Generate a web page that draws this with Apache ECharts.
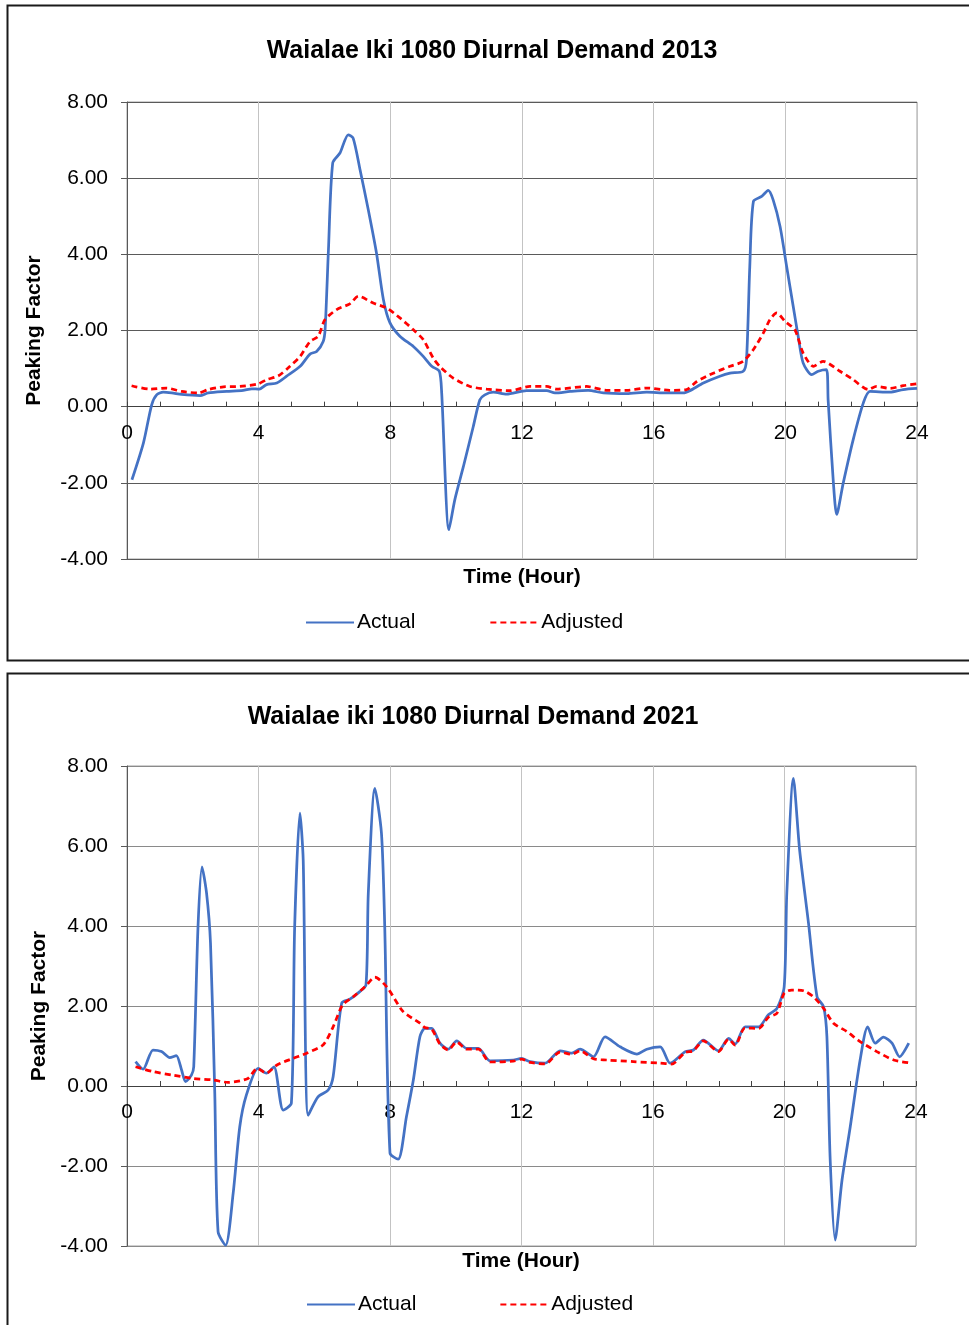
<!DOCTYPE html>
<html>
<head>
<meta charset="utf-8">
<script src="https://cdn.jsdelivr.net/npm/echarts@6/dist/echarts.min.js"></script>
<style>
html,body{margin:0;padding:0;background:#fff;}
#chart{width:969px;height:1325px;}
</style>
</head>
<body>
<div id="chart"></div>
<script>
// ---------- DATA ----------
const titles = ['Waialae Iki 1080 Diurnal Demand 2013', 'Waialae iki 1080 Diurnal Demand 2021'];
const seriesNames = ['Actual', 'Adjusted'];
const xAxisName = 'Time (Hour)';
const yAxisName = 'Peaking Factor';

// 2013 - Actual
const act13Hours = [0.15,0.5,0.75,0.9,1.1,1.36,1.66,2.22,2.47,3.03,3.53,3.79,4.02,4.24,4.55,4.85,5.26,5.56,5.76,5.96,6.02,6.12,6.25,6.47,6.72,6.87,7.08,7.33,7.58,7.79,7.99,8.29,8.70,9.0,9.26,9.49,9.56,9.78,9.96,10.22,10.52,10.72,10.87,11.13,11.53,12.14,12.75,13.0,13.46,14.01,14.47,15.18,15.79,16.39,16.9,17.10,17.51,18.01,18.32,18.72,18.82,18.92,19.03,19.28,19.48,19.63,19.84,20.04,20.24,20.39,20.54,20.8,21.0,21.25,21.3,21.46,21.56,21.76,22.06,22.37,22.57,23.18,23.58,24.0];
const act13Values = [-1.92,-0.95,0.05,0.31,0.38,0.36,0.32,0.29,0.36,0.40,0.43,0.47,0.46,0.58,0.62,0.80,1.06,1.38,1.45,1.71,2.05,4.12,6.40,6.66,7.14,7.05,6.22,5.17,4.03,2.81,2.20,1.85,1.58,1.32,1.06,0.93,0.36,-3.23,-2.44,-1.57,-0.52,0.18,0.31,0.38,0.33,0.42,0.42,0.36,0.40,0.43,0.36,0.34,0.38,0.36,0.36,0.42,0.62,0.80,0.88,0.93,1.23,3.68,5.39,5.52,5.68,5.43,4.73,3.68,2.63,1.85,1.15,0.84,0.93,0.97,0.18,-2.0,-2.83,-2.0,-0.87,0.10,0.40,0.38,0.45,0.48];

// 2013 - Adjusted
const adj13Hours = [0.14,0.7,1.2,1.66,2.17,2.47,2.93,3.43,3.99,4.24,4.6,4.95,5.26,5.56,5.81,6.01,6.37,6.77,7.03,7.48,7.89,8.29,8.70,9.0,9.3,9.5,9.91,10.42,10.93,11.63,12.24,12.75,13.05,13.96,14.57,15.18,15.79,16.49,17.0,17.31,17.81,18.32,18.72,19.03,19.33,19.53,19.74,19.99,20.29,20.54,20.85,21.15,21.66,22.06,22.52,22.77,23.18,23.58,24.0];
const adj13Values = [0.55,0.46,0.49,0.40,0.36,0.45,0.52,0.53,0.60,0.71,0.81,1.06,1.32,1.71,1.85,2.28,2.55,2.70,2.90,2.72,2.59,2.33,2.02,1.76,1.28,1.06,0.75,0.53,0.46,0.42,0.53,0.53,0.46,0.53,0.43,0.43,0.49,0.43,0.45,0.66,0.88,1.06,1.19,1.50,1.93,2.28,2.46,2.24,2.02,1.41,1.06,1.19,0.93,0.71,0.45,0.53,0.48,0.55,0.60];

// 2021 - Actual
const act21Hours = [0.26,0.49,0.79,1.05,1.3,1.5,1.66,1.78,1.96,2.03,2.16,2.28,2.42,2.54,2.67,2.77,3.0,3.23,3.43,3.63,3.99,4.24,4.47,4.75,5.0,5.1,5.26,5.36,5.51,5.81,6.12,6.27,6.53,6.78,7.08,7.27,7.34,7.54,7.74,7.84,8.0,8.25,8.5,8.71,8.91,9.06,9.27,9.52,9.77,10.03,10.33,10.69,11.04,11.75,12.0,12.26,12.72,13.17,13.53,13.78,14.19,14.54,15.0,15.51,15.81,16.22,16.52,16.98,17.23,17.53,17.99,18.3,18.5,18.8,19.21,19.51,19.77,19.99,20.07,20.27,20.46,20.73,20.99,21.19,21.29,21.39,21.54,21.75,22.0,22.3,22.53,22.76,23.01,23.27,23.5,23.78];
const act21Values = [0.61,0.42,0.90,0.86,0.71,0.76,0.40,0.11,0.27,0.48,3.98,5.48,4.82,3.57,-0.18,-3.64,-3.98,-2.68,-1.02,-0.23,0.44,0.32,0.48,-0.6,-0.43,3.98,6.82,5.65,-0.73,-0.27,-0.1,0.23,2.07,2.17,2.36,2.53,4.82,7.44,6.32,3.98,-1.68,-1.83,-0.77,0.15,1.23,1.44,1.44,1.07,0.92,1.13,0.94,0.94,0.63,0.65,0.69,0.61,0.57,0.88,0.82,0.92,0.73,1.23,0.98,0.80,0.92,0.98,0.57,0.86,0.90,1.15,0.88,1.19,1.05,1.48,1.48,1.78,1.94,2.48,4.82,7.69,5.9,4.07,2.23,1.98,1.23,-1.85,-3.85,-2.35,-1.02,0.65,1.48,1.07,1.22,1.07,0.73,1.07];

// 2021 - Adjusted
const adj21Hours = [0.26,0.79,1.4,2.01,2.62,3.07,3.68,3.96,4.24,4.55,5.05,5.46,5.97,6.27,6.56,6.88,7.24,7.54,7.9,8.4,8.91,9.06,9.27,9.52,9.77,10.03,10.33,10.69,11.04,11.75,12.0,12.26,12.72,13.17,13.53,13.78,14.19,14.59,15.4,16.22,16.57,16.98,17.23,17.53,17.99,18.3,18.5,18.8,19.21,19.51,19.77,19.99,20.22,20.58,20.88,21.19,21.49,21.9,22.3,22.81,23.32,23.78];
const adj21Values = [0.48,0.36,0.27,0.19,0.15,0.09,0.19,0.44,0.32,0.52,0.69,0.82,1.03,1.48,2.03,2.23,2.48,2.72,2.48,1.86,1.57,1.46,1.42,1.05,0.90,1.10,0.92,0.92,0.60,0.62,0.67,0.59,0.55,0.85,0.79,0.88,0.68,0.65,0.61,0.57,0.55,0.84,0.88,1.13,0.86,1.17,1.02,1.45,1.44,1.72,1.82,2.32,2.40,2.38,2.23,1.94,1.57,1.36,1.11,0.86,0.65,0.58];

const xTicks = {min: 0, max: 24, interval: 4};
const yTicks = {min: -4, max: 8, interval: 2};

// ---------- CHART ----------
const FONT = "'Liberation Sans', Arial, sans-serif";
const zip = (h, v) => h.map((x, i) => [x, v[i]]);

const grids = [
  {left: 127, top: 102, width: 790, height: 457},
  {left: 127, top: 766, width: 789, height: 480}
];
const hLineColors = ['#5a5a5a', '#8a8a8a'];

// the x axis crosses the y axis at 0: shift it up from the grid bottom by the height of the y range below 0
function zeroOffset(g) {
  return -g.height * (0 - yTicks.min) / (yTicks.max - yTicks.min);
}

function xAxisFor(i) {
  return {
    gridIndex: i, type: 'value', min: xTicks.min, max: xTicks.max, interval: xTicks.interval,
    position: 'bottom', offset: zeroOffset(grids[i]),
    axisLine: {show: true, onZero: false, lineStyle: {color: '#404040', width: 1}},
    axisTick: {show: true, inside: true, length: 5, lineStyle: {color: '#404040'}},
    minorTick: {show: true, splitNumber: 4, length: 5, lineStyle: {color: '#404040'}},
    splitLine: {show: true, lineStyle: {color: '#c3c3c3', width: 1}},
    axisLabel: {fontSize: 21, color: '#000', fontFamily: FONT, margin: 16, showMinLabel: true, showMaxLabel: true}
  };
}
function yAxisFor(i) {
  return {
    gridIndex: i, type: 'value', min: yTicks.min, max: yTicks.max, interval: yTicks.interval,
    name: yAxisName, nameLocation: 'middle', nameGap: i === 0 ? 82 : 75,
    nameTextStyle: {fontSize: 21, fontWeight: 'bold', color: '#000', fontFamily: FONT},
    axisLine: {show: true, onZero: false, lineStyle: {color: '#595959', width: 1}},
    axisTick: {show: true, inside: false, length: 6, lineStyle: {color: '#595959'}},
    splitLine: {show: true, lineStyle: {color: hLineColors[i], width: 1}},
    axisLabel: {fontSize: 21, color: '#000', fontFamily: FONT, margin: 19, formatter: v => v.toFixed(2)}
  };
}
function lineSeries(name, data, i) {
  const isAdj = name === 'Adjusted';
  return {
    name, type: 'line', xAxisIndex: i, yAxisIndex: i, data,
    symbol: 'none', smooth: 0.25, clip: true,
    lineStyle: isAdj ? {color: '#FF0000', width: 2.75, type: [6, 4]} : {color: '#4472C4', width: 2.75},
    itemStyle: {color: isAdj ? '#FF0000' : '#4472C4'},
    z: isAdj ? 3 : 2
  };
}
function legendFor(left, top, gap) {
  return {
    data: seriesNames, left, top, padding: 0, itemWidth: 48, itemHeight: 14, itemGap: gap,
    itemStyle: {opacity: 0},
    textStyle: {fontSize: 21, color: '#000', fontFamily: FONT, padding: [0, 0, 0, -2]}
  };
}

const chart = echarts.init(document.getElementById('chart'), null, {renderer: 'canvas'});
chart.setOption({
  animation: false,
  backgroundColor: '#fff',
  grid: grids.map(g => Object.assign({show: true, borderColor: '#a0a0a0', borderWidth: 1, backgroundColor: 'transparent'}, g)),
  xAxis: [xAxisFor(0), xAxisFor(1)],
  yAxis: [yAxisFor(0), yAxisFor(1)],
  legend: [legendFor(305, 612, 74), legendFor(306, 1294, 83)],
  series: [
    lineSeries(seriesNames[0], zip(act13Hours, act13Values), 0),
    lineSeries(seriesNames[1], zip(adj13Hours, adj13Values), 0),
    lineSeries(seriesNames[0], zip(act21Hours, act21Values), 1),
    lineSeries(seriesNames[1], zip(adj21Hours, adj21Values), 1)
  ],
  graphic: [
    {type: 'rect', shape: {x: 7.5, y: 5.5, width: 1000, height: 655}, style: {fill: 'none', stroke: '#1a1a1a', lineWidth: 2}, silent: true, z: -1},
    {type: 'rect', shape: {x: 7.5, y: 673.5, width: 1000, height: 700}, style: {fill: 'none', stroke: '#1a1a1a', lineWidth: 2}, silent: true, z: -1},
    {type: 'text', x: 492, y: 51, style: {text: titles[0], font: 'bold 25px ' + FONT, fill: '#000', align: 'center', verticalAlign: 'middle'}},
    {type: 'text', x: 473, y: 717, style: {text: titles[1], font: 'bold 25px ' + FONT, fill: '#000', align: 'center', verticalAlign: 'middle'}},
    {type: 'text', x: 522, y: 577, style: {text: xAxisName, font: 'bold 21px ' + FONT, fill: '#000', align: 'center', verticalAlign: 'middle'}},
    {type: 'text', x: 521, y: 1261, style: {text: xAxisName, font: 'bold 21px ' + FONT, fill: '#000', align: 'center', verticalAlign: 'middle'}}
  ]
});
</script>
</body>
</html>
